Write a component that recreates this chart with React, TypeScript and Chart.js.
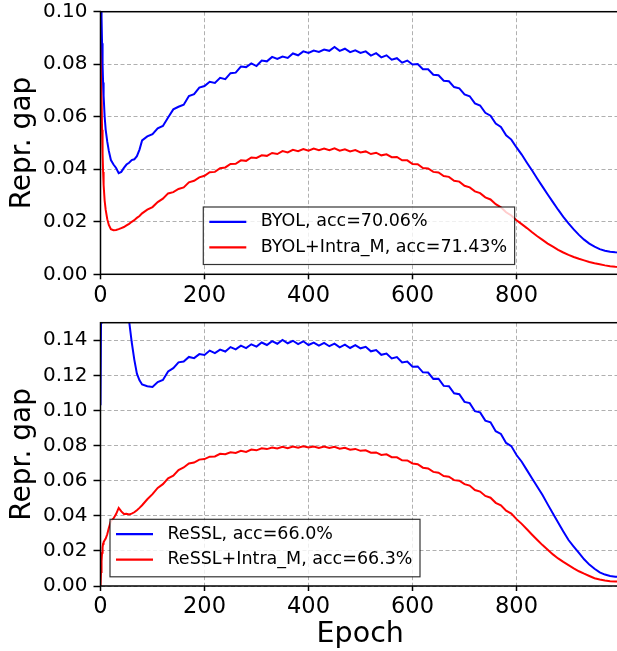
import React, { useEffect, useRef } from 'react';
import { Chart, registerables } from 'chart.js';

Chart.register(...registerables);

const FONT = "'DejaVu Sans'";

const epochs = [
  0, 1, 2, 3, 4, 5, 6, 8, 10, 13, 16, 20, 25, 30, 35, 40, 45, 50, 55, 60, 65, 70, 75,
  80, 90, 100, 110, 120, 130, 140, 150, 160, 170, 180, 190, 200, 210, 220, 230, 240,
  250, 260, 270, 280, 290, 300, 310, 320, 330, 340, 350, 360, 370, 380, 390, 400,
  410, 420, 430, 440, 450, 460, 470, 480, 490, 500, 510, 520, 530, 540, 550, 560,
  570, 580, 590, 600, 610, 620, 630, 640, 650, 660, 670, 680, 690, 700, 710, 720,
  730, 740, 750, 760, 770, 780, 790, 800, 810, 820, 830, 840, 850, 860, 870, 880,
  890, 900, 910, 920, 930, 940, 950, 960, 970, 980, 990, 999,
];

const byolGap = [
  0.125, 0.11, 0.098, 0.088, 0.08, 0.073, 0.068, 0.06, 0.055, 0.0505, 0.047, 0.0435, 0.0418, 0.0405, 0.0385, 0.039, 0.0405, 0.0418, 0.0425, 0.0435, 0.0438, 0.045, 0.0475,
  0.051,
  0.0525, 0.0534, 0.0556, 0.0565, 0.0597, 0.0628, 0.0638, 0.0646, 0.0679, 0.0686,
  0.0711, 0.0717, 0.0733, 0.0729, 0.0748, 0.0743, 0.0766, 0.0768, 0.0791, 0.0789,
  0.0803, 0.0793, 0.0814, 0.0811, 0.0828, 0.082, 0.0829, 0.0824, 0.0841, 0.0834,
  0.0849, 0.0843, 0.0852, 0.0847, 0.0856, 0.0851, 0.0866, 0.0851, 0.0859, 0.0846,
  0.0853, 0.0843, 0.0849, 0.0833, 0.0842, 0.0826, 0.0834, 0.0817, 0.0823, 0.0806,
  0.0814, 0.0799, 0.0801, 0.0781, 0.0781, 0.076, 0.0758, 0.0737, 0.0735, 0.0713,
  0.0708, 0.0685, 0.0678, 0.0651, 0.0643, 0.0615, 0.0604, 0.0574, 0.0561, 0.0529,
  0.0513, 0.0483,
  0.0456, 0.0425, 0.0395, 0.0364, 0.0334, 0.0304, 0.0275, 0.0246, 0.0219, 0.0194,
  0.0171, 0.015, 0.0132, 0.0117, 0.0105, 0.0096, 0.009, 0.0086, 0.0084,
  0.0083,
];

const byolIntraGap = [
  0.105, 0.085, 0.068, 0.055, 0.046, 0.039, 0.034, 0.028, 0.0245, 0.021, 0.0188, 0.0172, 0.0168, 0.0169, 0.0172, 0.0176, 0.018, 0.0186, 0.0192, 0.02, 0.0206, 0.0215, 0.0222,
  0.0232,
  0.0246, 0.0256, 0.0275, 0.0288, 0.0308, 0.0313, 0.0325, 0.0331, 0.035, 0.0356,
  0.0369, 0.0375, 0.0389, 0.039, 0.0404, 0.0407, 0.042, 0.0421, 0.0434, 0.0432,
  0.0445, 0.0443, 0.0453, 0.0451, 0.0462, 0.0458, 0.0469, 0.0464, 0.0474, 0.0469,
  0.0477, 0.0471, 0.0479, 0.0473, 0.0479, 0.0473, 0.048, 0.0471, 0.0476, 0.0468,
  0.0473, 0.0464, 0.0468, 0.0458, 0.0463, 0.0453, 0.0457, 0.0446, 0.0447, 0.0434,
  0.0434, 0.042, 0.0419, 0.0405, 0.0403, 0.039, 0.0388, 0.0374, 0.0371, 0.0356,
  0.0353, 0.0337, 0.0331, 0.0316, 0.0309, 0.0293, 0.0285, 0.0267, 0.0255, 0.0236,
  0.0224, 0.0206,
  0.0191, 0.0176, 0.016, 0.0145, 0.0131, 0.0117, 0.0105, 0.0093, 0.0083, 0.0074,
  0.0066, 0.0059, 0.0053, 0.0047, 0.0042, 0.0038, 0.0034, 0.0031, 0.0029,
  0.0028,
];

const resslGap = [
  0.103, 0.15, 0.185, 0.2, 0.21, 0.215, 0.22, 0.222, 0.222, 0.22, 0.216, 0.21, 0.2, 0.19, 0.18, 0.172, 0.165, 0.158, 0.151, 0.139, 0.129, 0.121, 0.1172,
  0.1148,
  0.1138, 0.1134,
  0.1162, 0.1174, 0.1222, 0.1241, 0.1274, 0.1279, 0.1305, 0.1298, 0.1321, 0.1316,
  0.1341, 0.1327, 0.1347, 0.1336, 0.1361, 0.1348, 0.1369, 0.1355, 0.1377, 0.1364,
  0.1387, 0.1373, 0.1395, 0.138, 0.1402, 0.1383, 0.1397, 0.1378, 0.1394, 0.1373,
  0.1387, 0.1369, 0.1385, 0.1366, 0.1381, 0.136, 0.1375, 0.1356, 0.1372, 0.1354,
  0.1363, 0.1337, 0.1344, 0.1317, 0.1324, 0.1296, 0.1304, 0.1274, 0.1279, 0.1249,
  0.1251, 0.1217, 0.1216, 0.118, 0.1181, 0.114, 0.1138, 0.1098, 0.1093, 0.1049,
  0.1042, 0.0996, 0.0989, 0.0942, 0.0933, 0.0882, 0.0866, 0.0815, 0.0797, 0.0746,
  0.0708, 0.066, 0.0612, 0.0565, 0.0518, 0.0465, 0.0413, 0.0362, 0.0311, 0.0262,
  0.0225, 0.0188, 0.0152, 0.0122, 0.0098, 0.0078, 0.0065, 0.0057, 0.0053,
  0.0052,
];

const resslIntraGap = [
  0.0, 0.008, 0.014, 0.019, 0.022, 0.024, 0.025, 0.026, 0.027, 0.0295, 0.033, 0.037, 0.0385, 0.041, 0.0445, 0.0425, 0.041, 0.0412, 0.0408, 0.0412, 0.042, 0.0432, 0.0445,
  0.046,
  0.0494, 0.0523, 0.0559, 0.058, 0.0614, 0.0628, 0.0661, 0.0675, 0.0698, 0.0703,
  0.072, 0.0723, 0.0737, 0.0738, 0.0753, 0.0751, 0.0762, 0.0758, 0.077, 0.0764,
  0.0777, 0.0773, 0.0784, 0.078, 0.0789, 0.0783, 0.0793, 0.0785, 0.0794, 0.0788,
  0.0796, 0.0789, 0.0795, 0.0787, 0.0794, 0.0786, 0.0793, 0.0782, 0.0787, 0.0776,
  0.0781, 0.077, 0.0773, 0.0759, 0.0761, 0.0747, 0.075, 0.0734, 0.0733, 0.0716,
  0.0715, 0.0698, 0.0694, 0.0674, 0.067, 0.065, 0.0645, 0.0626, 0.0623, 0.0603,
  0.06, 0.058, 0.0572, 0.0547, 0.0538, 0.0513, 0.0503, 0.0474, 0.046, 0.0429,
  0.0413, 0.0381,
  0.0354, 0.0323, 0.0292, 0.0262, 0.0233, 0.0206, 0.018, 0.0157, 0.0137, 0.0119,
  0.0101, 0.0084, 0.007, 0.0057, 0.0044, 0.0037, 0.0031, 0.0027, 0.0025,
  0.0025,
];

const xTicks = [0, 200, 400, 600, 800];
const topYTicks = [0, 0.02, 0.04, 0.06, 0.08, 0.1];
const bottomYTicks = [0, 0.02, 0.04, 0.06, 0.08, 0.1, 0.12, 0.14];
const topLabels = ['BYOL, acc=70.06%', 'BYOL+Intra_M, acc=71.43%'];
const bottomLabels = ['ReSSL, acc=66.0%', 'ReSSL+Intra_M, acc=66.3%'];
const seriesColors = ['#0000ff', '#ff0000'];
const yTitle = 'Repr. gap';
const xTitle = 'Epoch';

const framePlugin = {
  id: 'frame',
  afterDatasetsDraw(chart: any) {
    const { ctx, chartArea: a } = chart;
    ctx.save();
    ctx.strokeStyle = '#000';
    ctx.lineWidth = 1.5;
    ctx.setLineDash([]);
    ctx.strokeRect(a.left, a.top, a.right - a.left, a.bottom - a.top);
    ctx.restore();
  },
};

const boxLegendPlugin = {
  id: 'boxLegend',
  afterDraw(chart: any, _args: any, opts: any) {
    const ctx = chart.ctx;
    ctx.save();
    ctx.font = `${opts.fontSize}px ${FONT}`;
    const ds = chart.data.datasets;
    const widths = ds.map((d: any) => ctx.measureText(d.label).width);
    const w = opts.textOffset + Math.max(...widths) + opts.padRight;
    const h = opts.height;
    ctx.fillStyle = 'rgba(255,255,255,0.8)';
    ctx.fillRect(opts.x, opts.y, w, h);
    ctx.strokeStyle = 'rgba(0,0,0,0.8)';
    ctx.lineWidth = 1.2;
    ctx.strokeRect(opts.x, opts.y, w, h);
    ds.forEach((d: any, i: number) => {
      const yy = opts.y + opts.rows[i];
      ctx.strokeStyle = d.borderColor;
      ctx.lineWidth = 2.2;
      ctx.beginPath();
      ctx.moveTo(opts.x + opts.handleStart, yy);
      ctx.lineTo(opts.x + opts.handleEnd, yy);
      ctx.stroke();
      ctx.fillStyle = '#000';
      ctx.textBaseline = 'middle';
      ctx.textAlign = 'left';
      ctx.fillText(d.label, opts.x + opts.textOffset, yy);
    });
    ctx.restore();
  },
};

function buildConfig(p: {
  series: number[][];
  labels: string[];
  yMax: number;
  yTicks: number[];
  padTop: number;
  xHeight: number;
  legend: { x: number; y: number };
  showXTitle: boolean;
}) {
  return {
    type: 'line' as const,
    data: {
      datasets: p.series.map((vals, i) => ({
        label: p.labels[i],
        data: epochs.map((e, j) => ({ x: e, y: vals[j] })),
        borderColor: seriesColors[i],
        backgroundColor: seriesColors[i],
        borderWidth: 2,
        pointRadius: 0,
        tension: 0,
        fill: false,
      })),
    },
    options: {
      animation: false as const,
      responsive: false,
      events: [],
      layout: { padding: { top: p.padTop, left: 0, right: 10, bottom: 0 } },
      plugins: {
        legend: { display: false },
        tooltip: { enabled: false },
        boxLegend: {
          x: p.legend.x,
          y: p.legend.y,
          fontSize: 17.5,
          textOffset: 57.5,
          padRight: 7.5,
          height: 57.5,
          rows: [14.8, 40.4],
          handleStart: 6,
          handleEnd: 43,
        },
      },
      scales: {
        x: {
          type: 'linear' as const,
          min: 0,
          max: 999,
          afterBuildTicks: (s: any) => {
            s.ticks = xTicks.map((v) => ({ value: v }));
          },
          afterFit: (s: any) => {
            s.height = p.xHeight;
            s.paddingLeft = 0;
            s.paddingRight = 0;
          },
          ticks: {
            font: { family: FONT, size: 22.5 },
            color: '#000',
            padding: 3,
            maxRotation: 0,
            autoSkip: false,
            callback: (v: any) => String(v),
          },
          grid: {
            color: '#b0b0b0',
            lineWidth: 1,
            tickLength: 5,
            tickColor: '#000',
            tickWidth: 1.5,
            tickBorderDash: [],
          },
          border: { display: false, dash: [4, 2.5] },
          title: {
            display: p.showXTitle,
            text: xTitle,
            color: '#000',
            font: { family: FONT, size: 28.5, lineHeight: 1 },
            padding: { top: 0, bottom: 1.7 },
          },
        },
        y: {
          type: 'linear' as const,
          min: 0,
          max: p.yMax,
          afterBuildTicks: (s: any) => {
            s.ticks = p.yTicks.map((v) => ({ value: v }));
          },
          afterFit: (s: any) => {
            s.width = 100.5;
            s.paddingTop = 0;
            s.paddingBottom = 0;
          },
          ticks: {
            font: { family: FONT, size: 20 },
            color: '#000',
            padding: 6,
            callback: (v: any) => Number(v).toFixed(2),
          },
          grid: {
            color: '#b0b0b0',
            lineWidth: 1,
            tickLength: 7,
            tickColor: '#000',
            tickWidth: 1.5,
            tickBorderDash: [],
          },
          border: { display: false, dash: [4, 2.5] },
          title: {
            display: true,
            text: yTitle,
            color: '#000',
            font: { family: FONT, size: 28, lineHeight: 1 },
            padding: { top: 8.4, bottom: 0 },
          },
        },
      },
    },
    plugins: [framePlugin, boxLegendPlugin],
  };
}

export default function App() {
  const topRef = useRef<HTMLCanvasElement | null>(null);
  const bottomRef = useRef<HTMLCanvasElement | null>(null);

  useEffect(() => {
    const charts: Chart[] = [];
    if (topRef.current) {
      charts.push(
        new Chart(
          topRef.current,
          buildConfig({
            series: [byolGap, byolIntraGap],
            labels: topLabels,
            yMax: 0.1,
            yTicks: topYTicks,
            padTop: 11.7,
            xHeight: 35.7,
            legend: { x: 203.3, y: 207 },
            showXTitle: false,
          }) as any
        )
      );
    }
    if (bottomRef.current) {
      charts.push(
        new Chart(
          bottomRef.current,
          buildConfig({
            series: [resslGap, resslIntraGap],
            labels: bottomLabels,
            yMax: 0.15,
            yTicks: bottomYTicks,
            padTop: 12.7,
            xHeight: 65,
            legend: { x: 110, y: 209.3 },
            showXTitle: true,
          }) as any
        )
      );
    }
    return () => charts.forEach((c) => c.destroy());
  }, []);

  return (
    <div
      style={{
        position: 'fixed',
        left: 0,
        top: 0,
        width: 617,
        height: 651,
        overflow: 'hidden',
        background: '#fff',
      }}
    >
      <canvas
        ref={topRef}
        width={630}
        height={310}
        style={{ position: 'absolute', left: 0, top: 0, width: 630, height: 310 }}
      />
      <canvas
        ref={bottomRef}
        width={630}
        height={341}
        style={{ position: 'absolute', left: 0, top: 310, width: 630, height: 341 }}
      />
    </div>
  );
}
